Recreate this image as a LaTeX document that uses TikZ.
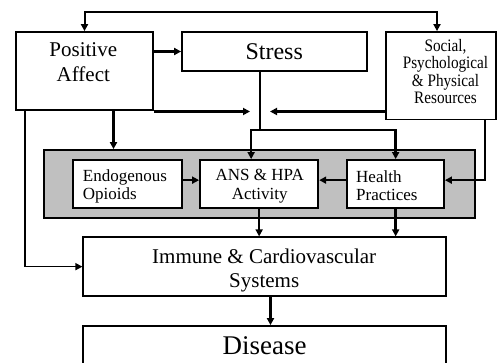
\documentclass[tikz,border=0pt]{standalone}
\usepackage{fontspec}
\setmainfont{Liberation Serif}
\newfontfamily\narrowserif{Liberation Serif}[FakeStretch=0.87]
\usetikzlibrary{arrows.meta}
\definecolor{panel}{HTML}{C0C0C0}
\begin{document}
\begin{tikzpicture}[x=1pt,y=-1pt,
  box/.style={draw=black,line width=1.8pt,fill=white,inner sep=0pt},
  txt/.style={inner sep=0pt,align=center},
  tip/.tip={Triangle[length=7pt,width=7pt]},
  arrthick/.style={line width=2.6pt,-tip},
  arrmed/.style={line width=2pt,-tip},
  linethin/.style={line width=1.5pt}
]
\useasboundingbox (0,0) rectangle (497,363);
\fill[white] (0,0) rectangle (497,363);

% top row
\node[box,minimum width=137pt,minimum height=78pt] (pa) at (84.5,71) {};
\node[txt,font=\fontsize{21}{24.7}\selectfont] (pat) at (83.3,62.2) {Positive\\Affect};
\node[box,minimum width=185pt,minimum height=39pt] (st) at (274.5,51.5) {};
\node[txt,font=\fontsize{24}{28}\selectfont] (stt) at (274.2,52) {Stress};
\node[box,minimum width=110pt,minimum height=87.5pt] (soc) at (441,75.75) {};
\node[txt,font=\narrowserif\fontsize{17.5}{17.2}\selectfont] (soct) at (445.5,71.5) {Social,\\Psychological\\\& Physical\\Resources};

% gray panel
\node[draw=black,line width=1.8pt,fill=panel,inner sep=0pt,minimum width=430.7pt,minimum height=68.3pt] (gr) at (259.65,184.15) {};
\node[box,minimum width=108.4pt,minimum height=48.3pt] (en) at (127.5,184.15) {};
\node[txt,anchor=west,align=left,font=\fontsize{17}{18}\selectfont] (ent) at (82.7,186) {Endogenous\\Opioids};
\node[box,minimum width=118.3pt,minimum height=48.3pt] (ans) at (259.15,184.15) {};
\node[txt,font=\fontsize{17}{18.6}\selectfont] (anst) at (259.7,186.1) {ANS \& HPA\\Activity};
\node[box,minimum width=96.7pt,minimum height=48.3pt] (hp) at (395.65,184.15) {};
\node[txt,anchor=west,align=left,font=\fontsize{17}{18}\selectfont] (hpt) at (356,186) {Health\\Practices};

% lower boxes
\node[box,minimum width=362.4pt,minimum height=58.7pt] (imm) at (264.5,266.65) {};
\node[txt,font=\fontsize{21}{24}\selectfont] (immt) at (264.2,270.5) {Immune \& Cardiovascular\\Systems};
\begin{scope}
\clip (0,0) rectangle (497,363);
\node[box,minimum width=362.4pt,minimum height=54pt] (dis) at (264.5,353) {};
\end{scope}
\node[txt,font=\fontsize{27}{30}\selectfont] (dist) at (264.5,346) {Disease};

% helper coordinates
\coordinate (topl) at (0,12.5);
\coordinate (j) at (260,111.5);
\coordinate (sp) at (260,130);

% connectors
\draw[arrthick] (pa.east |- st.west) -- (st.west);
\draw[line width=2pt,tip-tip] (pa.north) -- (pa.north |- topl) -- ([xshift=-4pt]soc.north |- topl) -- ([xshift=-4pt]soc.north);
\draw[arrthick] (pa.south east |- j) -- ([xshift=-10pt]j);
\draw[arrthick] (soc.west |- j) -- ([xshift=10pt]j);
\draw[linethin] (st.south -| sp) -- (sp);
\draw[line width=2.4pt,tip-tip] ([xshift=-8pt]ans.north) -- ([xshift=-8pt]ans.north |- sp) -- (hp.north |- sp) -- (hp.north);
\draw[arrthick] ([xshift=29pt]pa.south) -- ([xshift=29pt]pa.south |- gr.north);
\draw[linethin,-tip] ([xshift=-59.5pt]pa.south) |- (imm.west);
\draw[arrthick] ([xshift=44pt]soc.south) |- ([yshift=4pt]hp.east);
\draw[arrmed] ([yshift=4pt]en.east) -- ([yshift=4pt]ans.west);
\draw[arrmed] ([yshift=4pt]hp.west) -- ([yshift=4pt]ans.east);
\draw[arrthick] (ans.south) -- (ans.south |- imm.north);
\draw[arrthick] (hp.south) -- (hp.south |- imm.north);
\draw[arrthick] ([xshift=6pt]imm.south) -- ([xshift=6pt]dis.north);
\end{tikzpicture}
\end{document}
